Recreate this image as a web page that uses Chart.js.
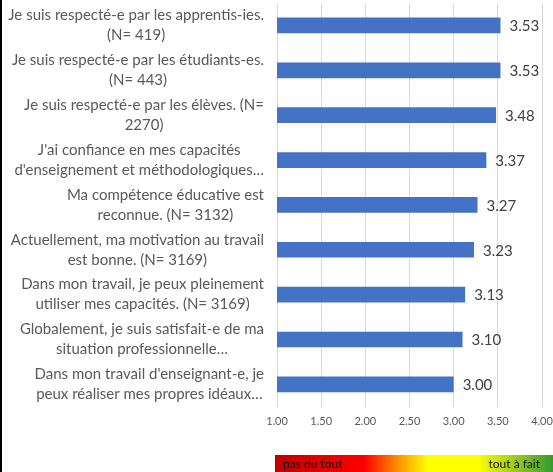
<!DOCTYPE html>
<html lang="fr">
<head>
  <meta charset="UTF-8" />
  <title>Satisfaction enseignants</title>
  <script src="https://cdn.jsdelivr.net/npm/chart.js"></script>
  <style>
    html, body { margin:0; padding:0; background:#fff; }
    .wrap { position:relative; width:553px; height:472px; }
  </style>
</head>
<body>
  <div class="wrap"><canvas id="chart"></canvas></div>
  <script>
    // data
    const labels = [
      ["Je suis respecté-e par les apprentis-ies.", "(N= 419)"],
      ["Je suis respecté-e par les étudiants-es.", "(N= 443)"],
      ["Je suis respecté-e par les élèves. (N=", "2270)"],
      ["J'ai confiance en mes capacités", "d'enseignement et méthodologiques…"],
      ["Ma compétence éducative est", "reconnue. (N= 3132)"],
      ["Actuellement, ma motivation au travail", "est bonne. (N= 3169)"],
      ["Dans mon travail, je peux pleinement", "utiliser mes capacités. (N= 3169)"],
      ["Globalement, je suis satisfait-e de ma", "situation professionnelle…"],
      ["Dans mon travail d'enseignant-e, je", "peux réaliser mes propres idéaux…"]
    ];
    const values = [3.53, 3.53, 3.48, 3.37, 3.27, 3.23, 3.13, 3.10, 3.00];
    const xTicks = [1.00, 1.50, 2.00, 2.50, 3.00, 3.50, 4.00];
    const scaleLow = "pas du tout";
    const scaleHigh = "tout à fait";

    const FONT = 'Lato, "Open Sans", sans-serif';
    const GREY = '#595959';

    // category labels: block right-aligned, lines centred inside the block
    const catLabels = {
      id: 'catLabels',
      afterDraw(chart) {
        const ctx = chart.ctx, y = chart.scales.y;
        ctx.save();
        ctx.font = '15px ' + FONT;
        ctx.fillStyle = GREY;
        ctx.textAlign = 'center';
        ctx.textBaseline = 'middle';
        labels.forEach((lines, i) => {
          const cy = y.getPixelForValue(i);
          const w = Math.max(...lines.map(l => ctx.measureText(l).width));
          const cx = 264 - w / 2;
          lines.forEach((l, j) => {
            ctx.fillText(l, cx, cy + (j - (lines.length - 1) / 2) * 20);
          });
        });
        ctx.restore();
      }
    };

    // value labels next to bars
    const valueLabels = {
      id: 'valueLabels',
      afterDatasetsDraw(chart) {
        const ctx = chart.ctx;
        const meta = chart.getDatasetMeta(0);
        ctx.save();
        ctx.font = '15px ' + FONT;
        ctx.fillStyle = '#404040';
        ctx.textAlign = 'left';
        ctx.textBaseline = 'middle';
        meta.data.forEach((bar, i) => {
          ctx.fillText(values[i].toFixed(2), bar.x + 9, bar.y + 1);
        });
        ctx.restore();
      }
    };

    // colour scale band + left border
    const band = {
      id: 'band',
      afterDraw(chart) {
        const ctx = chart.ctx;
        const x0 = 275, x1 = 553, y0 = 455, h = 18;
        ctx.save();
        const g = ctx.createLinearGradient(x0, 0, x1, 0);
        g.addColorStop(0, '#c00000');
        g.addColorStop(0.32, '#ff0000');
        g.addColorStop(0.45, '#ff9900');
        g.addColorStop(0.55, '#ffff00');
        g.addColorStop(0.73, '#ffff00');
        g.addColorStop(1, '#339933');
        ctx.fillStyle = g;
        ctx.fillRect(x0, y0, x1 - x0, h);
        ctx.font = '12px ' + FONT;
        ctx.fillStyle = '#111';
        ctx.textBaseline = 'middle';
        ctx.textAlign = 'left';
        ctx.fillText(scaleLow, x0 + 8, y0 + 9);
        ctx.textAlign = 'right';
        ctx.fillText(scaleHigh, x1 - 13, y0 + 9);
        ctx.fillStyle = '#000';
        ctx.fillRect(0, 0, 2, chart.height);
        ctx.restore();
      }
    };

    new Chart(document.getElementById('chart'), {
      type: 'bar',
      data: {
        labels: labels,
        datasets: [{
          data: values,
          backgroundColor: '#4472c4',
          borderWidth: 0,
          categoryPercentage: 1,
          barPercentage: 0.35
        }]
      },
      options: {
        indexAxis: 'y',
        responsive: true,
        maintainAspectRatio: false,
        animation: false,
        events: [],
        layout: { padding: { top: 3, bottom: 36 } },
        plugins: { legend: { display: false }, tooltip: { enabled: false } },
        scales: {
          x: {
            min: 1, max: 4,
            afterBuildTicks: s => { s.ticks = xTicks.map(v => ({ value: v })); },
            afterFit: s => { s.paddingRight = 11; },
            grid: { color: '#d9d9d9', drawTicks: false },
            border: { display: false },
            ticks: {
              padding: 8,
              color: GREY,
              font: { family: FONT, size: 11 },
              callback: v => Number(v).toFixed(2),
              maxRotation: 0
            }
          },
          y: {
            ticks: { display: false },
            grid: { display: false },
            border: { display: false },
            afterFit: s => { s.width = 277; }
          }
        }
      },
      plugins: [catLabels, valueLabels, band]
    });
  </script>
</body>
</html>
